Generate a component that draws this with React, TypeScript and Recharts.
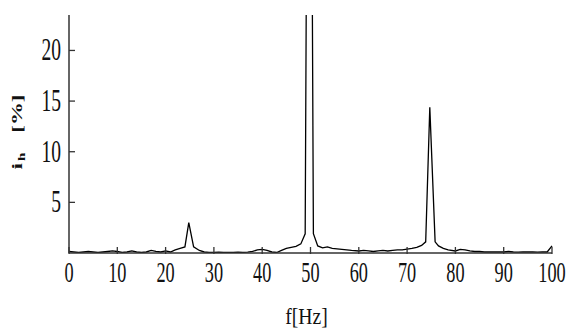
import React from 'react';
import { LineChart, Line, XAxis, YAxis } from 'recharts';

const freqs = [
  0, 1, 2, 3, 4, 5, 6, 7, 8, 9, 10, 11, 12, 13, 14, 15, 16, 17, 18, 19, 20, 21, 22, 23,
  24, 24.8, 25.8, 27, 28, 29, 30, 31, 32, 33, 34, 35, 36, 37, 38, 39, 40, 41, 42, 43, 44,
  45, 46, 47, 48, 48.9, 49.75, 50.6, 51.5, 52.5, 53.5, 54.5, 55.5, 56.5, 57.5, 58.5, 60,
  61, 62, 63, 64, 65, 66, 67, 68, 69, 70, 71, 72, 73, 73.85, 74.7, 75.8, 76.5, 77.5,
  78.5, 80, 81, 82, 83, 84, 85, 86, 87, 88, 89, 90, 91, 92, 93, 94, 95, 96, 97, 98, 99, 100,
];
const amps = [
  0.15, 0.1, 0.05, 0.1, 0.15, 0.1, 0.05, 0.1, 0.15, 0.2, 0.15, 0.05, 0.1, 0.2, 0.1, 0.05,
  0.1, 0.25, 0.15, 0.1, 0.2, 0.1, 0.3, 0.45,
  0.6, 3.0, 0.6, 0.25, 0.1, 0.05, 0.05, 0.08, 0.05, 0.06, 0.05, 0.08, 0.06, 0.08, 0.15,
  0.3, 0.35, 0.25, 0.1, 0.05, 0.25,
  0.45, 0.55, 0.65, 0.9, 1.9, 90, 1.9, 0.7, 0.5, 0.6, 0.45, 0.4, 0.35, 0.3, 0.25, 0.2,
  0.25, 0.2, 0.15, 0.2, 0.25, 0.2, 0.25, 0.3, 0.3, 0.38, 0.45, 0.55, 0.75, 1.1, 14.4, 1.1,
  0.7, 0.45,
  0.3, 0.2, 0.35, 0.3, 0.2, 0.15, 0.15, 0.1, 0.12, 0.1, 0.1, 0.1, 0.15, 0.1, 0.08, 0.1,
  0.12, 0.1, 0.08, 0.1, 0.1, 0.7,
];
const xTicks = [0, 10, 20, 30, 40, 50, 60, 70, 80, 90, 100];
const yTicks = [5, 10, 15, 20];
const xTitle = 'f[Hz]';
const yTitleMain = 'i';
const yTitleSub = 'h';
const yTitleUnit = '[%]';

const data = freqs.map((f, i) => ({ f, a: amps[i] }));

const serif = "'Liberation Serif', 'Times New Roman', serif";

const XTick = (props: any) => {
  const { x, y, payload } = props;
  return (
    <g>
      <line x1={x} x2={x} y1={y + 1} y2={y - 6} stroke="#333" strokeWidth={1.3} />
      <text
        transform={`translate(${x},${y + 29}) scale(0.63,1)`}
        textAnchor="middle"
        fontFamily={serif}
        fontSize={29}
        fill="#111"
      >
        {payload.value}
      </text>
    </g>
  );
};

const YTick = (props: any) => {
  const { x, y, payload } = props;
  return (
    <g>
      <line x1={x} x2={x + 6} y1={y} y2={y} stroke="#333" strokeWidth={1.3} />
      <text
        transform={`translate(${x - 8},${y + 10}) scale(0.63,1)`}
        textAnchor="end"
        fontFamily={serif}
        fontSize={31}
        fill="#111"
      >
        {payload.value}
      </text>
    </g>
  );
};

const XTitle = (props: any) => {
  const vb = props.viewBox;
  const cx = vb.x + vb.width / 2 - 4;
  return (
    <text
      transform={`translate(${cx},${vb.y + 71}) scale(0.82,1)`}
      textAnchor="middle"
      fontFamily={serif}
      fontSize={24}
      fill="#111"
    >
      {xTitle}
    </text>
  );
};

const YTitle = (props: any) => {
  const vb = props.viewBox;
  const cy = vb.y + vb.height / 2 - 2;
  return (
    <text
      transform={`translate(22,${cy}) scale(0.65,1) rotate(-90)`}
      textAnchor="middle"
      fontFamily={serif}
      fontWeight="bold"
      fontSize={23}
      fill="#111"
    >
      {yTitleMain}
      <tspan fontSize={15} dy={4} dx={2}>{yTitleSub}</tspan>
      <tspan dy={-4} dx={20}>{yTitleUnit}</tspan>
    </text>
  );
};

export default function App() {
  return (
    <div style={{ position: 'absolute', left: 0, top: 0, background: '#fff' }}>
      <LineChart
        width={571}
        height={334}
        data={data}
        margin={{ top: 15, right: 19, left: 0, bottom: 0 }}
      >
        <XAxis
          dataKey="f"
          type="number"
          domain={[0, 100]}
          ticks={xTicks}
          interval={0}
          height={81}
          tickSize={0}
          tickMargin={0}
          tickLine={false}
          tick={<XTick />}
          axisLine={{ stroke: '#333', strokeWidth: 1.5 }}
          label={{ content: <XTitle /> }}
        />
        <YAxis
          type="number"
          domain={[0, 23.5]}
          allowDataOverflow
          ticks={yTicks}
          interval={0}
          width={69}
          tickSize={0}
          tickMargin={0}
          tickLine={false}
          tick={<YTick />}
          axisLine={{ stroke: '#333', strokeWidth: 1.5 }}
          label={{ content: <YTitle /> }}
        />
        <Line
          dataKey="a"
          type="linear"
          stroke="#000"
          strokeWidth={1.3}
          dot={false}
          isAnimationActive={false}
        />
      </LineChart>
    </div>
  );
}
